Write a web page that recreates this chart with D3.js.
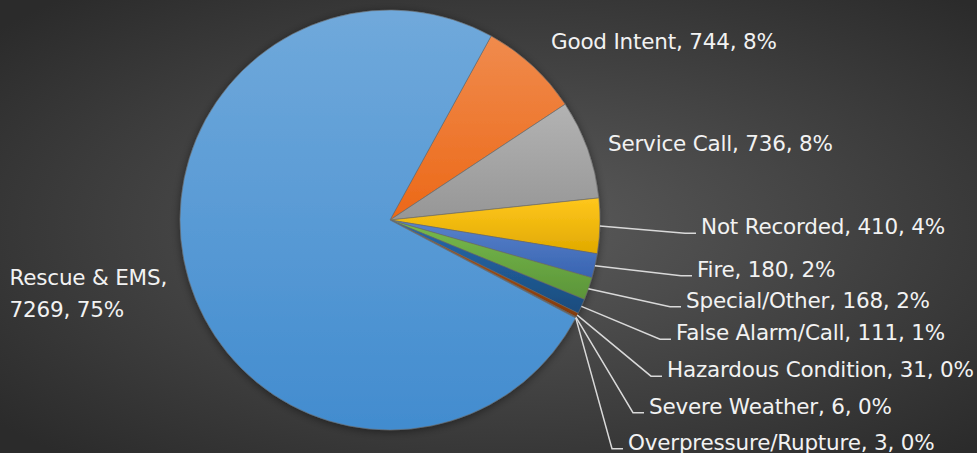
<!DOCTYPE html>
<html>
<head>
<meta charset="utf-8">
<script src="https://cdnjs.cloudflare.com/ajax/libs/d3/7.8.5/d3.min.js"></script>
<style>
    html, body { margin: 0; padding: 0; overflow: hidden; background: #333; }
    text { font-family: "DejaVu Sans", Verdana, sans-serif; }
</style>
</head>
<body>
<div id="chart"></div>
<script>
// incident types, clockwise from the orange slice
var categories = ["Good Intent", "Service Call", "Not Recorded", "Fire", "Special/Other",
    "False Alarm/Call", "Hazardous Condition", "Severe Weather", "Overpressure/Rupture", "Rescue & EMS"];
var counts = [744, 736, 410, 180, 168, 111, 31, 6, 3, 7269];
var sliceColors = ["#ee7a33", "#a5a5a5", "#ffc000", "#4472c4", "#6aaa41",
    "#215b96", "#9e480e", "#636363", "#997300", "#5a9bd5"];

(function() {
    var width = 977,
        height = 453;

    var cx = 390, cy = 220, radius = 210;

    // where excel put the labels: text x, baseline y, leader line or not
    var labelSpots = [
        [551, 48.5, false],
        [608, 151, false],
        [701, 234, true],
        [697, 276.5, true],
        [686, 307.5, true],
        [676, 340, true],
        [667, 377, true],
        [649, 413.5, true],
        [628, 449.5, true],
        [9.5, 285, false]
    ];

    var total = d3.sum(counts);
    var data = categories.map(function(c, i) {
        return { name: c, value: counts[i], color: sliceColors[i], spot: labelSpots[i] };
    });

    var svg = d3.select("#chart")
        .append("svg")
        .attr("width", width)
        .attr("height", height);

    var defs = svg.append("defs");

    // dark backdrop, lighter in the middle
    var bg = defs.append("radialGradient")
        .attr("id", "bg")
        .attr("cx", "52%").attr("cy", "50%").attr("r", "68%");
    bg.append("stop").attr("offset", "0%").attr("stop-color", "#5b5b5b");
    bg.append("stop").attr("offset", "100%").attr("stop-color", "#2b2b2b");

    svg.append("rect")
        .attr("width", width)
        .attr("height", height)
        .attr("fill", "url(#bg)");

    var shadow = defs.append("filter")
        .attr("id", "shadow")
        .attr("x", "-10%").attr("y", "-10%").attr("width", "120%").attr("height", "120%");
    shadow.append("feDropShadow")
        .attr("dx", 0).attr("dy", 1.5)
        .attr("stdDeviation", 4)
        .attr("flood-color", "#000")
        .attr("flood-opacity", 0.45);

    // each slice gets a top-to-bottom shade
    data.forEach(function(d, i) {
        var top = d3.hsl(d.color), bottom = d3.hsl(d.color);
        top.l = Math.min(1, top.l + 0.055);
        bottom.l = bottom.l - 0.06;
        var g = defs.append("linearGradient")
            .attr("id", "slice" + i)
            .attr("x1", 0).attr("y1", 0).attr("x2", 0).attr("y2", 1);
        g.append("stop").attr("offset", "0%").attr("stop-color", top + "");
        g.append("stop").attr("offset", "100%").attr("stop-color", bottom + "");
    });

    var start = 28.8 * Math.PI / 180;
    var pie = d3.pie()
        .sort(null)
        .startAngle(start)
        .endAngle(start + 2 * Math.PI)
        .value(function(d) { return d.value; });

    var arc = d3.arc().innerRadius(0).outerRadius(radius);
    var rim = d3.arc().innerRadius(radius).outerRadius(radius);

    var arcs = pie(data);

    var pieG = svg.append("g")
        .attr("transform", "translate(" + cx + "," + cy + ")")
        .attr("filter", "url(#shadow)");

    pieG.selectAll(".slice")
        .data(arcs)
        .enter()
        .append("path")
            .attr("class", "slice")
            .attr("d", arc)
            .attr("fill", function(d, i) { return "url(#slice" + i + ")"; })
            .attr("stroke", "#6b6b6b")
            .attr("stroke-width", 0.6)
            .attr("stroke-linejoin", "round");

    // leader lines: from the rim at mid angle, bend, then a short flat tail
    svg.selectAll(".leader")
        .data(arcs.filter(function(d) { return d.data.spot[2]; }))
        .enter()
        .append("polyline")
            .attr("class", "leader")
            .attr("fill", "none")
            .attr("stroke", "#d9d9d9")
            .attr("stroke-width", 1.5)
            .attr("points", function(d) {
                var p = rim.centroid(d);
                var s = d.data.spot;
                var ly = s[1] - 0.8;
                return [[cx + p[0], cy + p[1]], [s[0] - 16, ly], [s[0] - 5, ly]].join(" ");
            });

    var labels = svg.selectAll(".lbl")
        .data(arcs)
        .enter()
        .append("text")
            .attr("class", "lbl")
            .attr("x", function(d) { return d.data.spot[0]; })
            .attr("y", function(d) { return d.data.spot[1]; })
            .attr("fill", "#f2f2f2")
            .attr("font-size", "21.5px")
            .attr("letter-spacing", "-0.2px");

    labels.each(function(d) {
        var pct = Math.round(d.data.value / total * 100) + "%";
        var t = d3.select(this);
        if (d.data.name === "Rescue & EMS") {
            // this one wraps onto two lines
            t.append("tspan").text(d.data.name + ",");
            t.append("tspan")
                .attr("x", d.data.spot[0])
                .attr("dy", 31.5)
                .text(d.data.value + ", " + pct);
        } else {
            t.text(d.data.name + ", " + d.data.value + ", " + pct);
        }
    });
})();
</script>
</body>
</html>
